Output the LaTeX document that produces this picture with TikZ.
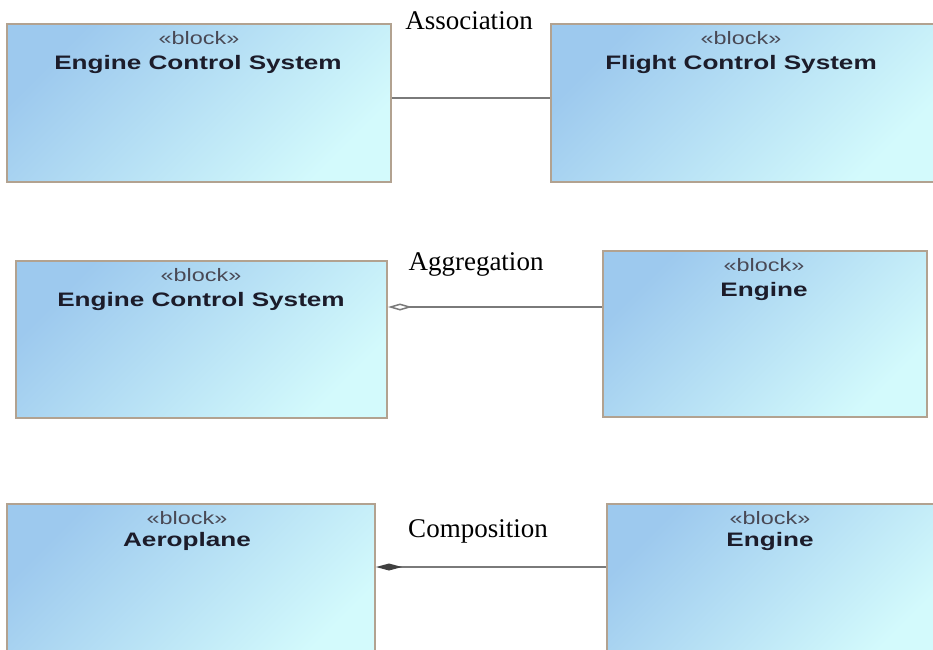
\documentclass[tikz,border=0pt]{standalone}
\usepackage{fontspec}
\setmainfont{Liberation Serif}
\newfontfamily\blksf{Liberation Sans}
\usetikzlibrary{arrows.meta}
\definecolor{blkA}{HTML}{9DC9EE}
\definecolor{blkB}{HTML}{D3FAFC}
\definecolor{blkBorder}{HTML}{B2A290}
\definecolor{conn}{HTML}{7A7A7A}
\definecolor{txtdark}{HTML}{1C1C2A}
\tikzset{
  blockbox/.style={draw=blkBorder, line width=2pt, rectangle, inner sep=0pt,
     top color=blkA, bottom color=blkB, shading angle=45},
  stereo/.style={anchor=base, inner sep=0pt, text=txtdark!80,
     font=\blksf\fontsize{18}{20}\selectfont},
  blktitle/.style={anchor=base, inner sep=0pt, text=txtdark,
     font=\blksf\bfseries\fontsize{19.5}{22}\selectfont},
  rellabel/.style={anchor=base, inner sep=0pt, text=black,
     font=\fontsize{27}{30}\selectfont},
  connline/.style={draw=conn, line width=2pt},
}
\newcommand{\wide}[1]{\scalebox{1.3}[1]{#1}}
\newcommand{\widet}[1]{\scalebox{1.34}[1]{#1}}
\begin{document}
\begin{tikzpicture}[x=1pt,y=-1pt]
\useasboundingbox (0,0) rectangle (933,649);
\clip (0,0) rectangle (933,649);
\fill[white] (0,0) rectangle (933,649);
% row 1
\node[blockbox, minimum width=384pt, minimum height=158pt] (ecs1) at (199,103) {};
\node[blockbox, minimum width=384pt, minimum height=158pt] (fcs) at (743,103) {};
\node[stereo] (ecs1s) at (199,44) {\wide{«block»}};
\node[blktitle] (ecs1t) at (198,69) {\widet{Engine Control System}};
\node[stereo] (fcss) at (741,44) {\wide{«block»}};
\node[blktitle] (fcst) at (741,69) {\widet{Flight Control System}};
\coordinate (a1) at (ecs1.east |- 0,98);
\coordinate (a2) at (fcs.west |- 0,98);
\draw[connline] (a1) -- (a2);
\node[rellabel] (assoc) at (469,29) {Association};
% row 2
\node[blockbox, minimum width=371pt, minimum height=157pt] (ecs2) at (201.5,339.5) {};
\node[blockbox, minimum width=324pt, minimum height=166pt] (eng1) at (765,334) {};
\node[stereo] (ecs2s) at (201,281) {\wide{«block»}};
\node[blktitle] (ecs2t) at (201,306) {\widet{Engine Control System}};
\node[stereo] (eng1s) at (764,271) {\wide{«block»}};
\node[blktitle] (eng1t) at (764,296) {\widet{Engine}};
\coordinate (g1) at (ecs2.east |- 0,307);
\coordinate (g2) at (eng1.west |- 0,307);
\draw[connline, {Diamond[open, length=24pt, width=7pt, line width=1.5pt]}-] (g1) -- (g2);
\node[rellabel] (aggr) at (476,270) {Aggregation};
% row 3
\node[blockbox, minimum width=368pt, minimum height=160pt] (aero) at (191,584) {};
\node[blockbox, minimum width=330pt, minimum height=160pt] (eng2) at (772,584) {};
\node[stereo] (aeros) at (187,524) {\wide{«block»}};
\node[blktitle] (aerot) at (187,546) {\widet{Aeroplane}};
\node[stereo] (eng2s) at (770,524) {\wide{«block»}};
\node[blktitle] (eng2t) at (770,546) {\widet{Engine}};
\coordinate (c1) at (aero.east |- 0,567);
\coordinate (c2) at (eng2.west |- 0,567);
\draw[connline, {Diamond[length=26pt, width=7pt, fill=black!75, color=black!75]}-] (c1) -- (c2);
\node[rellabel] (comp) at (478,537) {Composition};
\end{tikzpicture}
\end{document}
